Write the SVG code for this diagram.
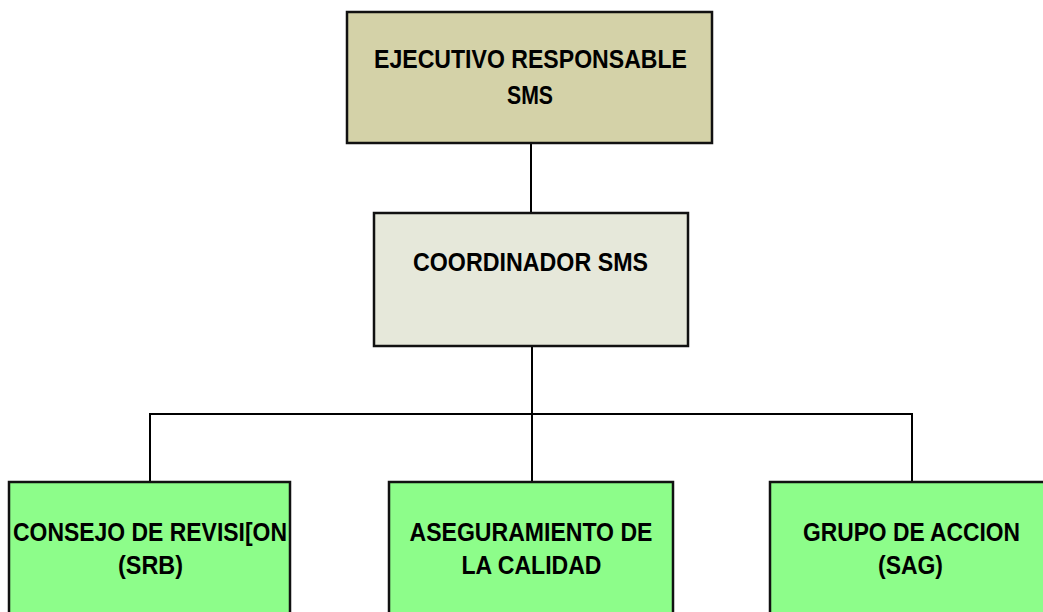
<svg xmlns="http://www.w3.org/2000/svg" width="1043" height="612" viewBox="0 0 1043 612">
<style>
.box{stroke:#111;stroke-width:2.5}
.t{font-family:"Liberation Sans",Arial,sans-serif;font-weight:bold;font-size:26px;fill:#000;text-anchor:middle}
.c{stroke:#000;stroke-width:2;fill:none}
</style>
<rect width="1043" height="612" fill="#fff"/>
<g id="connectors">
<line class="c" x1="531" y1="143" x2="531" y2="213"/>
<line class="c" x1="532" y1="346" x2="532" y2="414"/>
<polyline class="c" points="150,482 150,414 912,414 912,482"/>
<line class="c" x1="532" y1="414" x2="532" y2="482"/>
</g>
<g id="ejecutivo">
<rect class="box" x="347" y="12" width="365" height="131" fill="#D4D2A8"/>
<text class="t" x="530.5" y="68" textLength="313" lengthAdjust="spacingAndGlyphs">EJECUTIVO RESPONSABLE</text>
<text class="t" x="530" y="104" textLength="46" lengthAdjust="spacingAndGlyphs">SMS</text>
</g>
<g id="coordinador">
<rect class="box" x="374" y="213" width="314" height="133" fill="#E6E8DA"/>
<text class="t" x="530.5" y="271" textLength="235" lengthAdjust="spacingAndGlyphs">COORDINADOR SMS</text>
</g>
<g id="consejo">
<rect class="box" x="9" y="482" width="281" height="140" fill="#8DFD8A"/>
<text class="t" x="150" y="541" textLength="274" lengthAdjust="spacingAndGlyphs">CONSEJO DE REVISI[ON</text>
<text class="t" x="150.5" y="574" textLength="65" lengthAdjust="spacingAndGlyphs">(SRB)</text>
</g>
<g id="aseguramiento">
<rect class="box" x="389" y="482" width="284" height="140" fill="#8DFD8A"/>
<text class="t" x="531" y="541" textLength="243" lengthAdjust="spacingAndGlyphs">ASEGURAMIENTO DE</text>
<text class="t" x="531.5" y="574" textLength="140" lengthAdjust="spacingAndGlyphs">LA CALIDAD</text>
</g>
<g id="grupo">
<rect class="box" x="770" y="482" width="284" height="140" fill="#8DFD8A"/>
<text class="t" x="911.5" y="541" textLength="217" lengthAdjust="spacingAndGlyphs">GRUPO DE ACCION</text>
<text class="t" x="910.5" y="574" textLength="65" lengthAdjust="spacingAndGlyphs">(SAG)</text>
</g>
</svg>
